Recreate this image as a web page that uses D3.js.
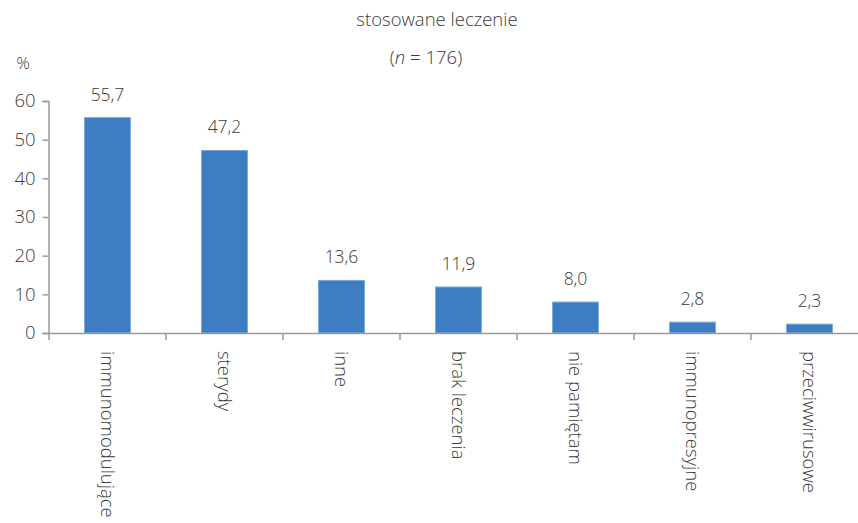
<!DOCTYPE html>
<html>
<head>
<meta charset="utf-8">
<script src="https://cdn.jsdelivr.net/npm/d3@7"></script>
<style>
  html, body { margin: 0; padding: 0; background: #fff; }
  svg { display: block; font-family: "Open Sans", sans-serif; font-weight: 300; }
</style>
</head>
<body>
<svg id="chart" width="858" height="523"></svg>
<script>
const categories = ["immunomodulujące", "sterydy", "inne", "brak leczenia", "nie pamiętam", "immunopresyjne", "przeciwwirusowe"];
const values = [55.7, 47.2, 13.6, 11.9, 8.0, 2.8, 2.3];
const yTicks = [0, 10, 20, 30, 40, 50, 60];

const svg = d3.select("#chart");
const textColor = "#3a3a3a";
const axisColor = "#9a9a9a";

const x = d3.scaleBand().domain(categories).range([49, 868]).paddingInner(0.607).paddingOuter(0.3035);
const y = d3.scaleLinear().domain([0, 60]).range([333, 101]);

// title
svg.append("text").attr("x", 437).attr("y", 26).attr("text-anchor", "middle")
  .attr("font-size", 18.5).attr("fill", textColor).text("stosowane leczenie");
const sub = svg.append("text").attr("x", 426).attr("y", 64).attr("text-anchor", "middle")
  .attr("font-size", 18.5).attr("fill", textColor);
sub.append("tspan").text("(");
sub.append("tspan").attr("font-style", "italic").text("n");
sub.append("tspan").text(" = 176)");

svg.append("text").attr("x", 23).attr("y", 69).attr("text-anchor", "middle")
  .attr("font-size", 17).attr("fill", textColor).text("%");

// bars
svg.selectAll("rect.bar").data(values).join("rect")
  .attr("class", "bar")
  .attr("x", (d, i) => x(categories[i]))
  .attr("y", d => y(d))
  .attr("width", x.bandwidth())
  .attr("height", d => y(0) - y(d))
  .attr("fill", "#3d7dc2")
  .attr("stroke", "#7eaadb")
  .attr("stroke-width", 1);

// value labels
svg.selectAll("text.val").data(values).join("text")
  .attr("class", "val")
  .attr("x", (d, i) => x(categories[i]) + x.bandwidth() / 2)
  .attr("y", d => y(d) - 17)
  .attr("text-anchor", "middle")
  .attr("font-size", 17.5)
  .attr("fill", textColor)
  .text(d => d.toFixed(1).replace(".", ","));

// y axis
const yAxis = svg.append("g").attr("transform", "translate(48.5,0)")
  .call(d3.axisLeft(y).tickValues(yTicks).tickSize(6).tickPadding(7).tickFormat(d3.format("d")));
yAxis.select(".domain").attr("stroke", axisColor).attr("stroke-width", 1.5);
yAxis.selectAll(".tick line").attr("stroke", axisColor).attr("stroke-width", 1.5);
yAxis.selectAll(".tick text").attr("font-size", 18.5).attr("fill", textColor)
  .attr("font-family", "Open Sans, sans-serif").attr("font-weight", 300);

// x axis: baseline with ticks at category boundaries
const xAxis = svg.append("g");
xAxis.append("line").attr("x1", 48.5).attr("x2", 858).attr("y1", 333.5).attr("y2", 333.5)
  .attr("stroke", axisColor).attr("stroke-width", 1.5);
const step = x.step();
const bounds = d3.range(categories.length + 1).map(i => x(categories[0]) - x.paddingOuter() * step + i * step);
xAxis.selectAll("line.tk").data(bounds).join("line").attr("class", "tk")
  .attr("x1", d => d).attr("x2", d => d).attr("y1", 333).attr("y2", 340)
  .attr("stroke", axisColor).attr("stroke-width", 1.5);

// category labels, rotated to read downward
svg.selectAll("text.cat").data(categories).join("text")
  .attr("class", "cat")
  .attr("transform", d => `translate(${x(d) + x.bandwidth() / 2},351) rotate(90)`)
  .attr("dy", "0.35em")
  .attr("font-size", 18.5)
  .attr("fill", textColor)
  .text(d => d);
</script>
</body>
</html>
